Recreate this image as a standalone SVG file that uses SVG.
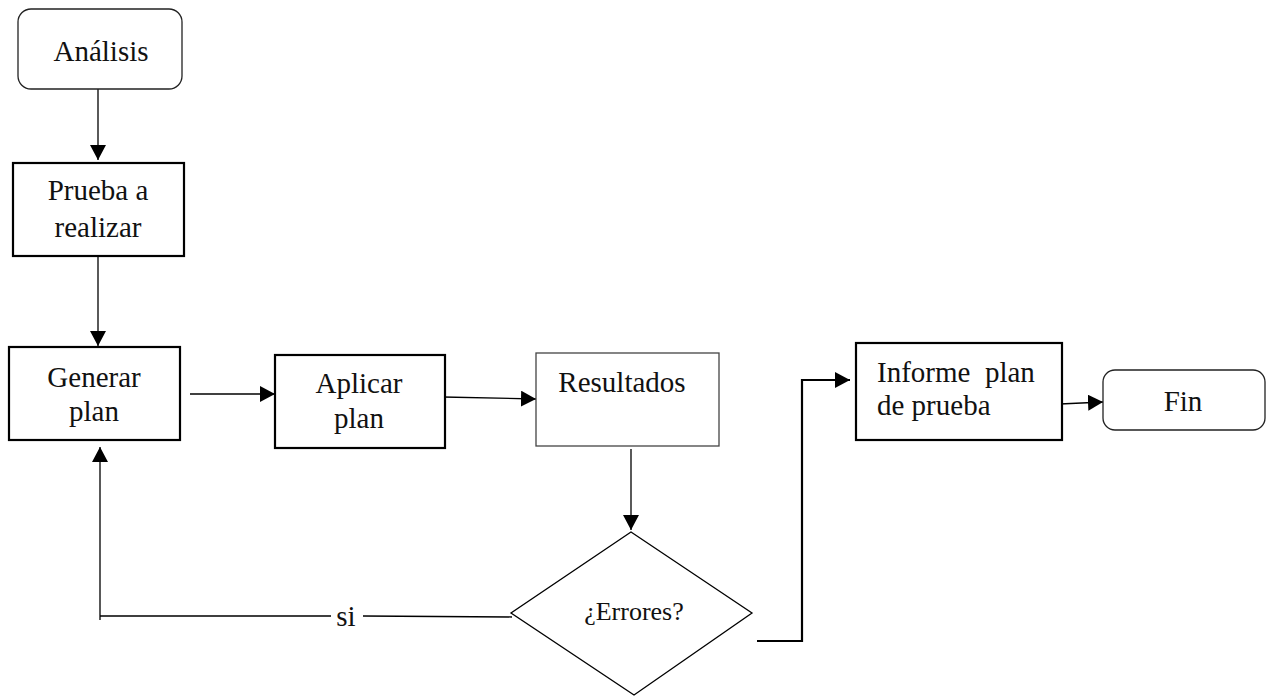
<svg xmlns="http://www.w3.org/2000/svg" width="1269" height="696" viewBox="0 0 1269 696">
  <defs>
    <marker id="arrow" viewBox="0 0 15 16" refX="15" refY="8" markerWidth="15" markerHeight="16" markerUnits="userSpaceOnUse" orient="auto">
      <path d="M0,0 L15,8 L0,16 z" fill="#000"/>
    </marker>
    <style>
      .lbl { font-family: "Liberation Serif", "DejaVu Serif", serif; font-size: 29px; fill: #111; text-anchor: middle; }
      .box { fill: #fff; stroke: #000; stroke-width: 2.2; }
      .thin { fill: #fff; stroke: #444; stroke-width: 1.3; }
      .round { fill: #fff; stroke: #222; stroke-width: 1.3; }
      .conn { fill: none; stroke: #000; stroke-width: 1.3; }
      .bold { fill: none; stroke: #000; stroke-width: 2.2; }
    </style>
  </defs>
  <rect width="1269" height="696" fill="#fff"/>

  <!-- connectors -->
  <g id="connectors">
    <path class="conn" d="M98,89 V160" marker-end="url(#arrow)"/>
    <path class="conn" d="M98,256 V346" marker-end="url(#arrow)"/>
    <path class="conn" d="M190,394 H275" marker-end="url(#arrow)"/>
    <path class="conn" d="M443,397 L536,399" marker-end="url(#arrow)"/>
    <path class="conn" d="M631,449 V530" marker-end="url(#arrow)"/>
    <path class="conn" d="M512,617 L363,616 M331,616 H100 V620 M100,616 V447" marker-end="url(#arrow)"/>
    <path class="bold" d="M757,641 H802 V380 H850" marker-end="url(#arrow)"/>
    <path class="conn" d="M1060,404 L1103,402" marker-end="url(#arrow)"/>
    <text class="lbl" x="346" y="626">si</text>
  </g>

  <g id="analisis">
    <rect class="round" x="18" y="9" width="164" height="80" rx="13"/>
    <text class="lbl" x="101" y="61">Análisis</text>
  </g>

  <g id="prueba">
    <rect class="box" x="13" y="163" width="171" height="93"/>
    <text class="lbl" x="98" y="200">Prueba a</text>
    <text class="lbl" x="98" y="237">realizar</text>
  </g>

  <g id="generar">
    <rect class="box" x="9" y="347" width="171" height="93"/>
    <text class="lbl" x="94" y="387">Generar</text>
    <text class="lbl" x="94" y="421">plan</text>
  </g>

  <g id="aplicar">
    <rect class="box" x="275" y="355" width="170" height="93"/>
    <text class="lbl" x="359" y="393">Aplicar</text>
    <text class="lbl" x="359" y="428">plan</text>
  </g>

  <g id="resultados">
    <rect class="thin" x="536" y="353" width="183" height="93"/>
    <text class="lbl" x="622" y="392">Resultados</text>
  </g>

  <g id="errores">
    <polygon class="conn" points="631,532 752,613 634,695 511,613" fill="#fff"/>
    <text class="lbl" x="634" y="620" style="font-size:26px">¿Errores?</text>
  </g>

  <g id="informe">
    <rect class="box" x="856" y="343" width="206" height="97"/>
    <text class="lbl" x="877" y="382" style="text-anchor:start;white-space:pre">Informe  plan</text>
    <text class="lbl" x="877" y="415" style="text-anchor:start">de prueba</text>
  </g>

  <g id="fin">
    <rect class="round" x="1103" y="370" width="162" height="60" rx="12"/>
    <text class="lbl" x="1183" y="411">Fin</text>
  </g>
</svg>
